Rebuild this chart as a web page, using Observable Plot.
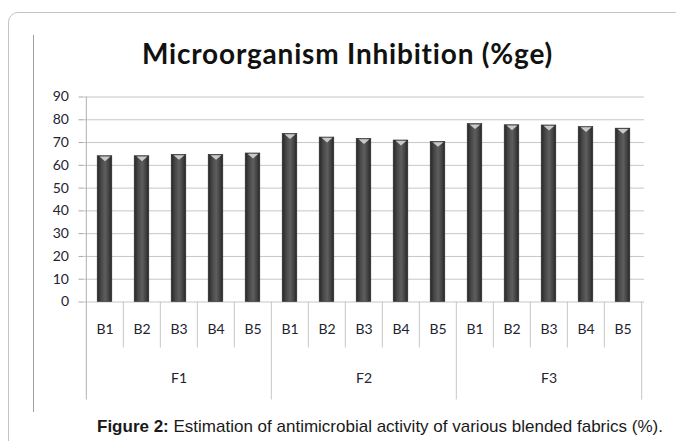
<!DOCTYPE html>
<html>
<head>
<meta charset="utf-8">
<script src="https://cdn.jsdelivr.net/npm/d3@7"></script>
<script src="https://cdn.jsdelivr.net/npm/@observablehq/plot@0.6"></script>
<style>
  body { margin: 0; background: #fff; }
  #wrap { position: relative; width: 676px; height: 441px; overflow: hidden; background: #fff; }
  #outer { position: absolute; left: 8px; top: 12px; width: 720px; height: 480px; border: 1px solid #c4c4c4; border-radius: 10px; }
  #inner { position: absolute; left: 33px; top: 35px; width: 0; height: 377px; border-left: 1px solid #a0a0a0; }
  #title { position: absolute; left: 0; top: 37px; width: 695px; text-align: center; font-family: Lato, sans-serif; font-weight: bold; font-size: 28px; line-height: 33px; letter-spacing: 0.8px; color: #111; }
  #chart { position: absolute; left: 0; top: 80px; }
  #caption { position: absolute; left: 97px; top: 417px; font-family: "Liberation Sans", Arial, sans-serif; font-size: 17px; color: #1a1a1a; white-space: nowrap; }
  #chart [aria-label^="y-axis"] line, #chart [aria-label^="y-axis"] path { stroke: #a8a8a8; }
</style>
</head>
<body>
<div id="wrap">
  <div id="outer"></div>
  <div id="inner"></div>
  <div id="title">Microorganism Inhibition (%ge)</div>
  <div id="chart"></div>
  <div id="caption"><b>Figure 2:</b> Estimation of antimicrobial activity of various blended fabrics (%).</div>
</div>
<script>
const groups = ["F1", "F2", "F3"];
const blends = ["B1", "B2", "B3", "B4", "B5"];
const f1Values = [64.0, 64.0, 64.6, 64.6, 65.2];
const f2Values = [73.8, 72.2, 71.6, 70.9, 70.3];
const f3Values = [78.1, 77.6, 77.5, 76.8, 76.1];
const yTicks = [0, 10, 20, 30, 40, 50, 60, 70, 80, 90];

const seriesByGroup = [f1Values, f2Values, f3Values];
const data = groups.flatMap((g, gi) => blends.map((b, bi) => ({group: g, blend: b, key: g + "-" + b, value: seriesByGroup[gi][bi]})));
const keys = data.map(d => d.key);

const W = 676, H = 330, mT = 16.5, mB = 108.5, mL = 83.5, mR = 32;
const bw = (W - mL - mR) / keys.length;
const frameH = H - mT - mB;
const lineColor = "#c6c6c6";

const capSymbol = {
  draw(ctx, size) {
    const r = Math.sqrt(size / Math.PI);
    ctx.moveTo(-r, -r * 0.4);
    ctx.lineTo(r, -r * 0.4);
    ctx.lineTo(0, r * 0.45);
    ctx.closePath();
  }
};

const chart = Plot.plot({
  width: W, height: H,
  marginTop: mT, marginBottom: mB, marginLeft: mL, marginRight: mR,
  style: {fontFamily: "Lato, sans-serif", fontSize: "14px", color: "#1e2330", background: "transparent", overflow: "visible"},
  x: {domain: keys, padding: 0, tickSize: 0, tickPadding: 22, tickFormat: k => k.split("-")[1], label: null},
  y: {domain: [0, 90], ticks: 10, tickSize: 5, tickPadding: 10, label: null},
  marks: [
    Plot.ruleY(yTicks, {stroke: lineColor}),
    Plot.ruleX(keys.filter(k => !k.endsWith("B1")), {x: d => d, dx: -bw / 2, insetTop: frameH, insetBottom: -46, stroke: lineColor}),
    Plot.ruleX(keys.filter(k => k.endsWith("B1") && k !== keys[0]), {x: d => d, dx: -bw / 2, insetTop: frameH, insetBottom: -98, stroke: lineColor}),
    Plot.ruleX([keys[keys.length - 1]], {x: d => d, dx: bw / 2, insetTop: frameH, insetBottom: -98, stroke: lineColor}),
    Plot.ruleX([keys[0]], {x: d => d, dx: -bw / 2, insetBottom: -98, stroke: "#b0b0b0"}),
    Plot.barY(data, {x: "key", y: "value", fill: "url(#barGrad)", stroke: "#2a2a2a", strokeWidth: 0.6, insetLeft: 11.2, insetRight: 11.2}),
    Plot.dot(data, {x: "key", y: "value", symbol: capSymbol, r: 5.5, fill: "#c9c9c9", stroke: "none", dy: 2.5}),
    Plot.text(groups, {x: g => g + "-B3", text: d => d, frameAnchor: "bottom", dy: 81, fontSize: 14})
  ]
});

const ns = "http://www.w3.org/2000/svg";
const defs = document.createElementNS(ns, "defs");
defs.innerHTML = `<linearGradient id="barGrad" x1="0" x2="1" y1="0" y2="0">
  <stop offset="0" stop-color="#262626"/>
  <stop offset="0.3" stop-color="#4a4a4a"/>
  <stop offset="0.55" stop-color="#5e5e5e"/>
  <stop offset="0.8" stop-color="#424242"/>
  <stop offset="1" stop-color="#242424"/>
</linearGradient>`;
chart.insertBefore(defs, chart.firstChild);
document.getElementById("chart").appendChild(chart);
</script>
</body>
</html>
